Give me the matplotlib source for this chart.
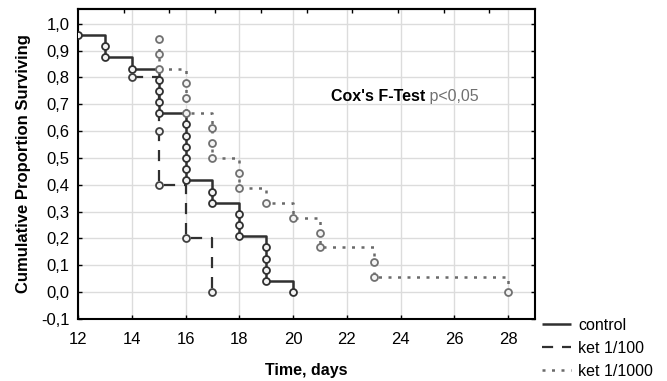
import matplotlib
matplotlib.use("Agg")
import matplotlib.pyplot as plt
from matplotlib.ticker import FuncFormatter, MultipleLocator

plt.rcParams['font.family'] = ['Liberation Sans', 'DejaVu Sans']

# event times and survival after each event
ctrl_t = [12, 13, 13, 14, 15, 15, 15, 15, 16, 16, 16, 16, 16, 16,
          17, 17, 18, 18, 18, 19, 19, 19, 19, 20]
ctrl_s = [0.958, 0.917, 0.875, 0.833, 0.792, 0.750, 0.708, 0.667,
          0.625, 0.583, 0.542, 0.500, 0.458, 0.417, 0.375, 0.333,
          0.292, 0.250, 0.208, 0.167, 0.125, 0.083, 0.042, 0.0]

k100_t = [14, 15, 15, 16, 17]
k100_s = [0.8, 0.6, 0.4, 0.2, 0.0]

k1000_t = [15, 15, 15, 16, 16, 16, 17, 17, 17, 18, 18, 19, 20, 21, 21, 23, 23, 28]
k1000_s = [0.944, 0.889, 0.833, 0.778, 0.722, 0.667, 0.611, 0.556, 0.500,
           0.444, 0.389, 0.333, 0.278, 0.222, 0.167, 0.111, 0.056, 0.0]

series = [
    ("control", ctrl_t, ctrl_s, '#303030', '#303030', (0, ()), 1.8),
    ("ket 1/100", k100_t, k100_s, '#303030', '#404040', (0, (5, 4)), 1.6),
    ("ket 1/1000", k1000_t, k1000_s, '#6a6a6a', '#707070', (0, (1.2, 2.6)), 1.8),
]

fig = plt.figure(figsize=(6.67, 3.81), dpi=100)
ax = fig.add_axes([78 / 667, 1 - 319 / 381, (535 - 78) / 667, (319 - 9) / 381])

for label, t, s, lc, mc, ls, lw in series:
    # last value at each time gives the step curve
    st, ss = [], []
    for ti, si in zip(t, s):
        if st and st[-1] == ti:
            ss[-1] = si
        else:
            st.append(ti)
            ss.append(si)
    ax.plot(st, ss, drawstyle='steps-post', color=lc, linestyle=ls,
            linewidth=lw, label=label, zorder=3)
    # vertical drop to the first point
    ax.plot([t[0], t[0]], [s[0], ss[0]], color=lc, linestyle=ls, linewidth=lw, zorder=3)
    ax.plot(t, s, linestyle='none', marker='o', markersize=5,
            markerfacecolor='#f4f4f4', markeredgecolor=mc, markeredgewidth=1.3, zorder=4)

ax.set_xlim(12, 29)
ax.set_ylim(-0.1, 1.055)
ax.yaxis.set_major_locator(MultipleLocator(0.1))
ax.set_xticks([12, 14, 16, 18, 20, 22, 24, 26, 28])
ax.yaxis.set_major_formatter(FuncFormatter(lambda v, p: f"{v:.1f}".replace('.', ',').replace('-0,0', '0,0')))
ax.grid(True, color='#dcdcdc', linewidth=1.0, zorder=0)
ax.set_axisbelow(True)
ax.tick_params(direction='in', length=3, width=1, labelsize=12, right=True, colors='black')
ax.tick_params(axis='x', pad=9)
ax.tick_params(axis='y', pad=6)

# top ticks: ten equal divisions of the x range
top = ax.secondary_xaxis('top')
top.set_xticks([12 + 1.7 * k for k in range(1, 10)])
top.tick_params(direction='in', length=3, width=1, labeltop=False)

for sp in list(ax.spines.values()) + [top.spines['top']]:
    sp.set_linewidth(1.5)
    sp.set_color('black')

ax.set_xlabel('Time, days', fontsize=11.5, fontweight='bold', labelpad=12)
ax.set_ylabel('Cumulative Proportion Surviving', fontsize=12, fontweight='bold', labelpad=7)

txt = ax.text(21.4, 0.728, "Cox's F-Test", fontsize=11.5, fontweight='bold',
              va='center', ha='left')
ax.annotate(" p<0,05", xy=(1, 0.5), xycoords=txt, va='center', ha='left',
            fontsize=11.5, color='#707070')

fig.legend(loc='upper left', bbox_to_anchor=(542 / 667, 1 - 318 / 381),
           frameon=False, fontsize=11.5, handlelength=1.8, handletextpad=0.45,
           labelspacing=0.5, borderpad=0, borderaxespad=0)

fig.savefig('out.png', dpi=100)
